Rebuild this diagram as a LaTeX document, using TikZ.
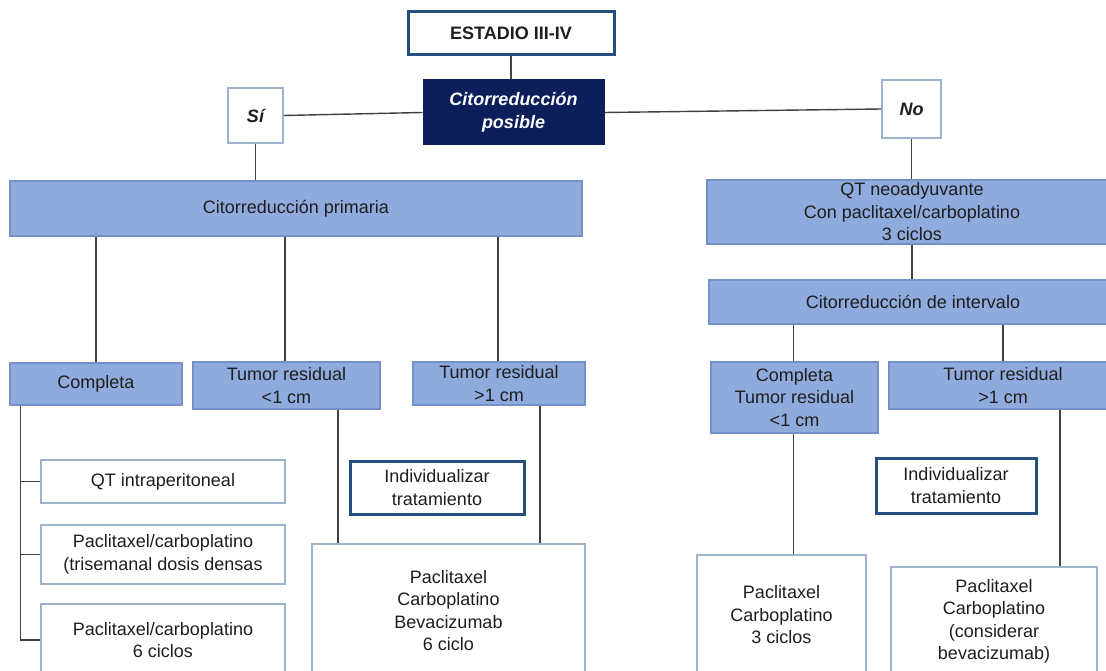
\documentclass[tikz,border=0pt]{standalone}
\usepackage{fontspec}
\setmainfont{Liberation Sans}
\definecolor{bluefill}{HTML}{8FAADC}
\definecolor{blueline}{HTML}{7391C6}
\definecolor{navy}{HTML}{0C1F5B}
\definecolor{thickline}{HTML}{24507F}
\definecolor{whiteline}{HTML}{9DB3D0}
\definecolor{conncol}{HTML}{404040}
\definecolor{txt}{HTML}{1E1E1E}
\tikzset{
  base/.style={rectangle, inner sep=0pt, align=center, text=txt,
    font=\fontsize{18}{22.5}\selectfont},
  bluebox/.style={base, fill=bluefill, draw=blueline, line width=1.2pt},
  whitebox/.style={base, fill=white, draw=whiteline, line width=1.3pt},
  thickbox/.style={base, fill=white, draw=thickline, line width=3pt},
  darkbox/.style={base, fill=navy, draw=navy, line width=1pt, text=white,
    font=\fontsize{18}{22.5}\selectfont\bfseries\itshape},
  conn/.style={draw=conncol, line width=1.4pt},
}
\begin{document}
\begin{tikzpicture}[x=1pt,y=-1pt]
\useasboundingbox (0,0) rectangle (1106,671);
\clip (0,0) rectangle (1106,671);
\fill[white] (0,0) rectangle (1106,671);

% top
\node[thickbox, minimum width=206pt, minimum height=43pt, font=\fontsize{18}{22.5}\selectfont\bfseries] (estadio) at (511,33.5) {ESTADIO III-IV};
\node[darkbox, minimum width=181pt, minimum height=65pt] (posible) at (513.5,112.5) {Citorreducción\\posible};
\node[whitebox, minimum width=55pt, minimum height=55pt, font=\fontsize{18}{22.5}\selectfont\bfseries\itshape] (si) at (255.5,115.5) {Sí};
\node[whitebox, minimum width=59pt, minimum height=58pt, font=\fontsize{18}{22.5}\selectfont\bfseries\itshape] (no) at (911.5,109) {No};

% left branch
\node[bluebox, minimum width=572pt, minimum height=55pt] (primaria) at (296,208.5) {Citorreducción primaria};
\node[bluebox, minimum width=172pt, minimum height=42pt] (completaL) at (96,384) {Completa};
\node[bluebox, minimum width=187pt, minimum height=47pt] (tumor1) at (286.5,385.5) {Tumor residual\\<1 cm};
\node[bluebox, minimum width=172pt, minimum height=43pt] (tumor2) at (499,383.5) {Tumor residual\\>1 cm};
\node[whitebox, minimum width=244pt, minimum height=43pt] (qtip) at (163,481.5) {QT intraperitoneal};
\node[whitebox, minimum width=244pt, minimum height=59pt] (trisem) at (163,554.5) {Paclitaxel/carboplatino\\(trisemanal dosis densas};
\node[whitebox, minimum width=244pt, minimum height=72pt] (seis) at (163,640) {Paclitaxel/carboplatino\\6 ciclos};
\node[thickbox, minimum width=174pt, minimum height=53pt] (indivL) at (437,487.5) {Individualizar\\tratamiento};
\node[whitebox, minimum width=273pt, minimum height=133pt] (bevL) at (448.5,610.5) {Paclitaxel\\Carboplatino\\Bevacizumab\\6 ciclo};

% right branch
\node[bluebox, minimum width=410pt, minimum height=64pt] (neo) at (912,212) {QT neoadyuvante\\Con paclitaxel/carboplatino\\3 ciclos};
\node[bluebox, minimum width=408pt, minimum height=44pt] (intervalo) at (913,302) {Citorreducción de intervalo};
\node[bluebox, minimum width=167pt, minimum height=71pt] (completaR) at (794.5,397.5) {Completa\\Tumor residual\\<1 cm};
\node[bluebox, minimum width=228pt, minimum height=47pt] (tumorR) at (1003,385.5) {Tumor residual\\>1 cm};
\node[thickbox, minimum width=160pt, minimum height=55pt] (indivR) at (956,485.5) {Individualizar\\tratamiento};
\node[whitebox, minimum width=169pt, minimum height=120pt] (tresc) at (781.5,615) {Paclitaxel\\Carboplatino\\3 ciclos};
\node[whitebox, minimum width=206pt, minimum height=109pt] (consid) at (994,621.5) {Paclitaxel\\Carboplatino\\(considerar\\bevacizumab)};

% connectors
\draw[conn] (estadio.south) -- (estadio.south |- posible.north);
\draw[conn] (si.east) -- (posible.west);
\draw[conn] (posible.east) -- (no.west);
\draw[conn] (si.south) -- (si.south |- primaria.north);
\draw[conn] (no.south) -- (no.south |- neo.north);
\draw[conn] (neo.south) -- (neo.south |- intervalo.north);
\draw[conn] (completaL.north) -- (completaL.north |- primaria.south);
\draw[conn] ([xshift=-1.5pt]tumor1.north) -- ([xshift=-1.5pt]tumor1.north |- primaria.south);
\draw[conn] ([xshift=-1pt]tumor2.north) -- ([xshift=-1pt]tumor2.north |- primaria.south);
\coordinate (trunk) at ([xshift=11pt]completaL.south west);
\draw[conn] (trunk) |- (seis.west);
\draw[conn] (trunk |- qtip.west) -- (qtip.west);
\draw[conn] (trunk |- trisem.west) -- (trisem.west);
\coordinate (t1out) at ([xshift=51.5pt]tumor1.south);
\draw[conn] (t1out) -- (t1out |- bevL.north);
\coordinate (t2out) at ([xshift=41pt]tumor2.south);
\draw[conn] (t2out) -- (t2out |- bevL.north);
\draw[conn] ([xshift=-1pt]completaR.north) -- ([xshift=-1pt]completaR.north |- intervalo.south);
\draw[conn] (tumorR.north) -- (tumorR.north |- intervalo.south);
\draw[conn] ([xshift=-1pt]completaR.south) -- ([xshift=-1pt]completaR.south |- tresc.north);
\coordinate (tRout) at ([xshift=57pt]tumorR.south);
\draw[conn] (tRout) -- (tRout |- consid.north);
\end{tikzpicture}
\end{document}
